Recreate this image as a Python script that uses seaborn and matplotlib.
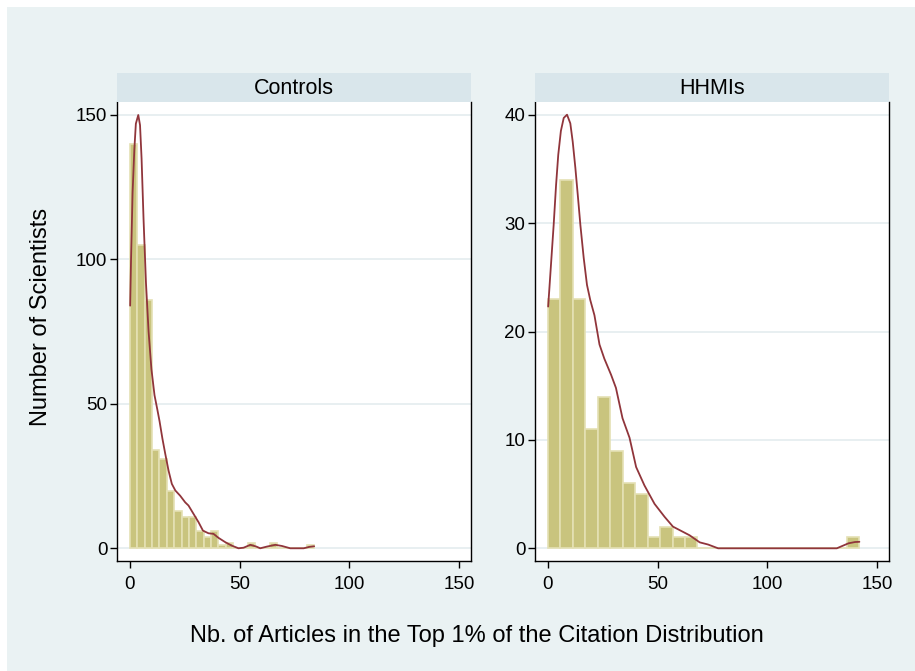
import numpy as np
import pandas as pd
import matplotlib
matplotlib.use("Agg")
import matplotlib.pyplot as plt
from matplotlib.patches import Rectangle
import seaborn as sns

# Histogram counts (25 equal-width bins starting at 0)
controls_counts = [140, 105, 86, 34, 31, 20, 13, 11, 11, 6, 4, 6, 1, 2, 0,
                   0, 2, 0, 0, 2, 0, 0, 0, 0, 1]
controls_max = 84
hhmi_counts = [23, 34, 23, 11, 14, 9, 6, 5, 1, 2, 1, 1, 0, 0, 0,
               0, 0, 0, 0, 0, 0, 0, 0, 0, 1]
hhmi_max = 142

# Kernel density overlays, on the frequency scale
controls_kde_x = [0.1, 0.5, 1.2, 2.0, 2.7, 3.8, 4.6, 5.3, 6.2, 7.3, 8.5, 9.8,
                  11.2, 12.5, 13.5, 14.8, 16.1, 17.6, 19.1, 20.7, 22.9, 25.2,
                  26.7, 29.0, 31.3, 33.3, 35.8, 38.1, 40.4, 43.5, 46.5, 49.5,
                  51.8, 54.9, 57.6, 59.4, 62.5, 66.3, 69.3, 73.1, 79.2, 81.9,
                  84.0]
controls_kde_y = [84, 100, 123, 138, 147, 150, 146.5, 135, 114, 92, 75, 62,
                  53, 48, 44, 38, 32.7, 26.9, 22.3, 20, 18.2, 15.9,
                  14.8, 11.9, 9.0, 6.1, 5.2, 5.0, 3.6, 2.1, 0.9, 0.0,
                  0.2, 1.2, 0.6, 0.0, 0.6, 1.2, 0.8, 0.0, 0.0, 0.5,
                  0.7]
hhmi_kde_x = [0.1, 1.4, 2.6, 3.7, 4.7, 5.9, 7.2, 8.7, 10.2, 11.3, 12.5, 13.6,
              14.8, 16.3, 17.8, 19.3, 21.2, 23.5, 25.7, 28.8, 31.0, 34.0,
              37.2, 40.2, 44.0, 48.6, 53.2, 57.0, 60.8, 64.6, 69.2, 73.0,
              77.6, 131.7, 137.0, 140.0, 142.0]
hhmi_kde_y = [22.3, 26.2, 29.8, 33.5, 36.3, 38.5, 39.7, 40.0, 39.2, 37.5, 35.1,
              32.6, 29.8, 26.8, 24.3, 22.9, 21.5, 18.8, 17.5, 16.0, 14.8, 12.0,
              10.2, 7.5, 5.8, 4.1, 2.9, 2.0, 1.6, 1.2, 0.55, 0.35,
              0.0, 0.0, 0.46, 0.58, 0.6]

panel_titles = ["Controls", "HHMIs"]
x_ticks = [0, 50, 100, 150]
controls_y_ticks = [0, 50, 100, 150]
hhmi_y_ticks = [0, 10, 20, 30, 40]
x_label = "Nb. of Articles in the Top 1% of the Citation Distribution"
y_label = "Number of Scientists"

# Colours
outer_bg = "#EAF2F3"
strip_bg = "#D9E6EB"
grid_col = "#E6EEF0"
bar_fill = "#C9C47E"
bar_edge = "#E4E0B4"
kde_col = "#90353B"

sns.set_theme(style="white")
plt.rcParams["font.family"] = ["Liberation Sans", "DejaVu Sans"]

fig = plt.figure(figsize=(9.15, 6.71), dpi=100)
fig.patch.set_facecolor("white")
# graph region, inset by a thin white margin at the top and left
fig.add_artist(Rectangle((7 / 915, 0), 1 - 7 / 915, 1 - 7 / 671,
                         transform=fig.transFigure, facecolor=outer_bg,
                         edgecolor="none", zorder=-10))

panels = [
    dict(counts=controls_counts, xmax=controls_max, kx=controls_kde_x,
         ky=controls_kde_y, yticks=controls_y_ticks, ylim=(-4.4, 154.5),
         left=117 / 915),
    dict(counts=hhmi_counts, xmax=hhmi_max, kx=hhmi_kde_x, ky=hhmi_kde_y,
         yticks=hhmi_y_ticks, ylim=(-1.17, 41.17), left=535 / 915),
]

ax_w = 354 / 915
ax_b = 1 - 561 / 671
ax_h = (561 - 102) / 671
strip_h = (102 - 73) / 671

for title, p in zip(panel_titles, panels):
    ax = fig.add_axes([p["left"], ax_b, ax_w, ax_h])
    ax.set_facecolor("white")
    n_bins = len(p["counts"])
    edges = np.linspace(0, p["xmax"], n_bins + 1)
    centers = (edges[:-1] + edges[1:]) / 2
    df = pd.DataFrame({"x": centers, "n": p["counts"]})
    sns.histplot(data=df, x="x", weights="n", bins=n_bins,
                 binrange=(0, p["xmax"]), ax=ax, color=bar_fill, alpha=1,
                 edgecolor=bar_edge, linewidth=1.2, zorder=2)
    kde = pd.DataFrame({"x": p["kx"], "y": p["ky"]})
    sns.lineplot(data=kde, x="x", y="y", ax=ax, color=kde_col, lw=1.3,
                 estimator=None, sort=False, zorder=3)

    ax.set_xlim(-5.9, 155.5)
    ax.set_ylim(*p["ylim"])
    ax.set_xticks(x_ticks)
    ax.set_yticks(p["yticks"])
    ax.set_yticklabels([str(v) for v in p["yticks"]])
    ax.yaxis.grid(True, color=grid_col, lw=1.3, zorder=0)
    ax.xaxis.grid(False)
    ax.set_axisbelow(True)
    ax.set_xlabel("")
    ax.set_ylabel("")
    ax.tick_params(axis="both", direction="out", length=5, width=1,
                   color="black", labelsize=13.5, labelcolor="black",
                   bottom=True, left=True)
    ax.tick_params(axis="x", pad=6)
    ax.tick_params(axis="y", pad=2)
    for side in ("left", "right", "bottom"):
        ax.spines[side].set_visible(True)
        ax.spines[side].set_color("black")
        ax.spines[side].set_linewidth(1.0)
    ax.spines["top"].set_visible(False)

    strip = fig.add_axes([p["left"], ax_b + ax_h, ax_w, strip_h])
    strip.set_facecolor(strip_bg)
    strip.set_xticks([])
    strip.set_yticks([])
    for s in strip.spines.values():
        s.set_visible(False)
    strip.text(0.5, 0.48, title, ha="center", va="center", fontsize=15.5,
               color="black", transform=strip.transAxes)

fig.text(41 / 915, 1 - 317 / 671, y_label, rotation=90, ha="center",
         va="center", fontsize=17, color="black")
fig.text(477 / 915, 1 - 636 / 671, x_label, ha="center", va="center",
         fontsize=17, color="black")

fig.savefig("out.png", dpi=100, facecolor="white")
